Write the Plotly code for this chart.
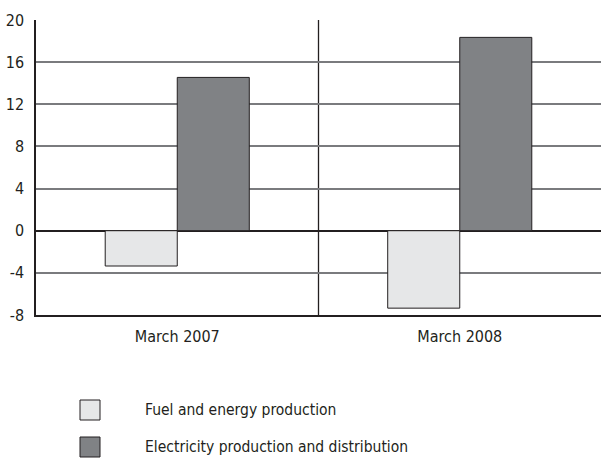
import plotly.graph_objects as go

categories = ["March 2007", "March 2008"]
fuel_energy = [-3.35, -7.35]
electricity = [14.55, 18.35]
series_names = ["Fuel and energy production", "Electricity production and distribution"]
y_ticks = [-8, -4, 0, 4, 8, 12, 16, 20]

light = "#e6e7e8"
dark = "#808285"
edge = "#231f20"
FONT = "DejaVu Sans Condensed, Liberation Sans Narrow, sans-serif"

fig = go.Figure()
fig.add_trace(go.Bar(x=categories, y=fuel_energy, name=series_names[0],
                     marker=dict(color=light, line=dict(color=edge, width=1)),
                     width=0.255, offset=-0.255, showlegend=False))
fig.add_trace(go.Bar(x=categories, y=electricity, name=series_names[1],
                     marker=dict(color=dark, line=dict(color=edge, width=1)),
                     width=0.255, offset=0, showlegend=False))

W, H = 601, 459
L, R, T, B = 36, 0, 20, 144
fig.update_layout(
    width=W, height=H,
    margin=dict(l=L, r=R, t=T, b=B, pad=0),
    plot_bgcolor="white", paper_bgcolor="white",
    font=dict(family=FONT, size=16, color="#231f20"),
    barmode="group",
    xaxis=dict(range=[-0.5, 1.5], showgrid=False, showline=True, linecolor="#231f20",
               linewidth=1.5, ticks="outside", ticklen=6, tickcolor="rgba(0,0,0,0)",
               zeroline=False, fixedrange=True, automargin=False),
    yaxis=dict(range=[-8, 20], tickvals=y_ticks, ticktext=[str(v) for v in y_ticks],
               showgrid=True, gridcolor="#7a7b7e", gridwidth=1.5,
               showline=True, linecolor="#231f20", linewidth=1.5,
               zeroline=True, zerolinecolor="#231f20", zerolinewidth=1.5,
               ticks="outside", ticklen=7, tickcolor="rgba(0,0,0,0)", fixedrange=True,
               automargin=False),
    showlegend=False,
)

# category divider
fig.add_shape(type="line", xref="x", yref="paper", x0=0.5, x1=0.5, y0=0, y1=1,
              line=dict(color="#231f20", width=1.3), layer="below")

# manual legend
legend_items = [(series_names[0], light, 410), (series_names[1], dark, 447)]
PW, PH = W - L - R, H - T - B
for name, col, yc in legend_items:
    fig.add_shape(type="rect", xref="paper", yref="paper",
                  x0=(80 - L) / PW, x1=(100 - L) / PW,
                  y0=1 - (yc + 10 - T) / PH, y1=1 - (yc - 10 - T) / PH,
                  fillcolor=col, line=dict(color=edge, width=1))
    fig.add_annotation(xref="paper", yref="paper", x=(143 - L) / PW,
                       y=1 - (yc - T) / PH, text=name, showarrow=False,
                       xanchor="left", yanchor="middle",
                       font=dict(family=FONT, size=15.5))

fig.write_html("out.html", config={"displayModeBar": False},
               post_script="document.body.style.margin='0';document.body.style.overflow='hidden';")
